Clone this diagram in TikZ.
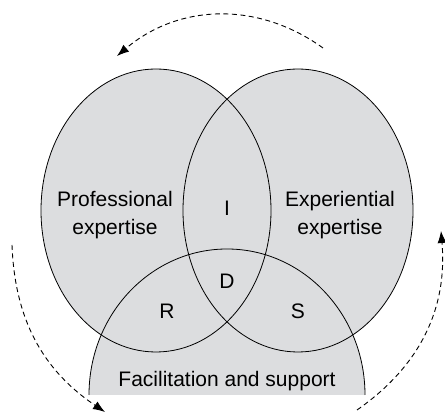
\documentclass[tikz,border=0pt]{standalone}
\usepackage{fontspec}
\setmainfont{Liberation Sans}
\usetikzlibrary{arrows.meta}
\definecolor{Venn Gray}{HTML}{DCDDDF}
\definecolor{Solid Black}{HTML}{000000}

\begin{document}
\begin{tikzpicture}[x=1pt,y=1pt,
    vennlabel/.style={font=\fontsize{21}{28}\selectfont, align=center, inner sep=0pt},
    cyclearrow/.style={Solid Black, line width=0.9pt, dash pattern=on 5pt off 3.5pt,
        -{Latex[length=12pt,width=9pt]}}]
    \useasboundingbox (0,0) rectangle (445,417);
    % Fill the three sets first so every outline stays visible
    \foreach \cx in {156,298} {
        \fill[Venn Gray] (\cx,206.5) ellipse [x radius=115, y radius=141.5];
    }
    \fill[Venn Gray] (89,22) arc [start angle=180, end angle=0, x radius=138, y radius=146] -- cycle;
    % Outlines on top
    \foreach \cx in {156,298} {
        \draw[Solid Black, line width=0.8pt] (\cx,206.5) ellipse [x radius=115, y radius=141.5];
    }
    \draw[Solid Black, line width=0.8pt] (89,22) arc [start angle=180, end angle=0, x radius=138, y radius=146];
    % Set and overlap labels
    \node[vennlabel] (professional) at (115,201.5) {Professional\\expertise};
    \node[vennlabel] (experiential) at (340,201.5) {Experiential\\expertise};
    \node[vennlabel, anchor=base] (facilitation) at (227,30) {Facilitation and support};
    \foreach \name/\x/\y in {I/227/209, D/227/136, R/167/105.5, S/298/105.5} {
        \node[vennlabel] (\name) at (\x,\y) {\name};
    }
    % Dashed arrows round the diagram
    \coordinate (topstart) at (323,369);
    \coordinate (topend) at (117,361);
    \coordinate (leftstart) at (12,172);
    \coordinate (leftend) at (105,5);
    \coordinate (rightstart) at (357,7);
    \coordinate (rightend) at (441,186);
    \draw[cyclearrow] (topstart) to[bend right=38] (topend);
    \draw[cyclearrow] (leftstart) to[bend right=27] (leftend);
    \draw[cyclearrow] (rightstart) to[bend right=30] (rightend);
\end{tikzpicture}
\end{document}
